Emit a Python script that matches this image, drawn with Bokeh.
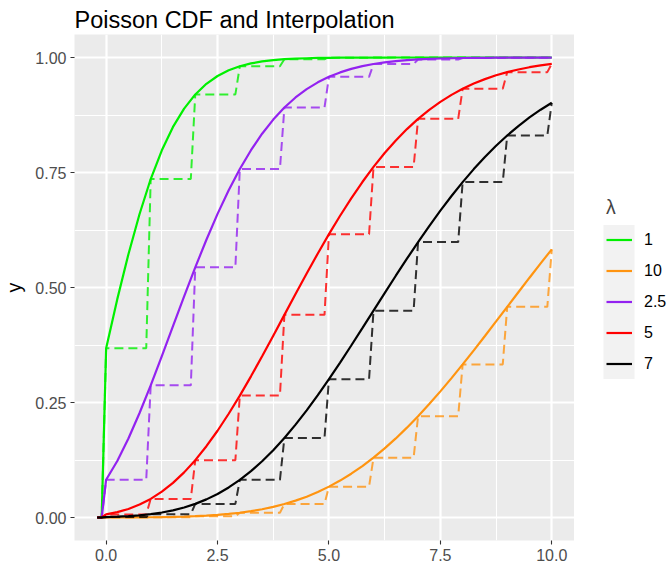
from bokeh.plotting import figure
from bokeh.layouts import row
from bokeh.models import Range1d, FixedTicker, NumeralTickFormatter, Legend, LegendItem
from bokeh.embed import file_html
from bokeh.resources import INLINE

# ---------------- data ----------------
lambdas = ["1", "10", "2.5", "5", "7"]          # legend order
colors = ["#00F000", "#FF9410", "#9322F0", "#FF0000", "#000000"]

step_x = [0, 1, 2, 3, 4, 5, 6, 7, 8, 9, 10]
step_dx = 0.1                                     # grid spacing of the step curve
start_x = [-0.2, -0.1]

cdf_l1 = [0.3679, 0.7358, 0.9197, 0.9810, 0.9963, 0.9994, 0.9999, 1.0, 1.0, 1.0, 1.0]
cdf_l10 = [0.00005, 0.0005, 0.0028, 0.0103, 0.0293, 0.0671, 0.1301, 0.2202, 0.3328, 0.4579, 0.5830]
cdf_l2_5 = [0.0821, 0.2873, 0.5438, 0.7576, 0.8912, 0.9580, 0.9858, 0.9958, 0.9989, 0.9997, 0.9999]
cdf_l5 = [0.0067, 0.0404, 0.1247, 0.2650, 0.4405, 0.6160, 0.7622, 0.8666, 0.9319, 0.9682, 0.9863]
cdf_l7 = [0.0009, 0.0073, 0.0296, 0.0818, 0.1730, 0.3007, 0.4497, 0.5987, 0.7291, 0.8305, 0.9015]

smooth_x = [-0.2, -0.1,
            0, 0.25, 0.5, 0.75, 1, 1.25, 1.5, 1.75, 2, 2.25, 2.5, 2.75, 3, 3.25, 3.5, 3.75,
            4, 4.25, 4.5, 4.75, 5, 5.25, 5.5, 5.75, 6, 6.25, 6.5, 6.75, 7, 7.25, 7.5, 7.75,
            8, 8.25, 8.5, 8.75, 9, 9.25, 9.5, 9.75, 10]
smooth_l1 = [0, 0,
             0.3679, 0.4747, 0.5724, 0.6598, 0.7358, 0.7983, 0.8491, 0.8890, 0.9197, 0.9428,
             0.9598, 0.9723, 0.9810, 0.9872, 0.9914, 0.9944, 0.9963, 0.9976, 0.9984, 0.9990,
             0.9994, 0.9996, 0.9997, 0.9998, 0.9999, 0.9999, 0.99995, 1.0, 1.0, 1.0, 1.0, 1.0,
             1.0, 1.0, 1.0, 1.0, 1.0, 1.0, 1.0, 1.0, 1.0]
smooth_l10 = [0, 0,
              0.00005, 0.0001, 0.0002, 0.0003, 0.0005, 0.0008, 0.0013, 0.0019, 0.0028, 0.0040,
              0.0056, 0.0077, 0.0103, 0.0137, 0.0179, 0.0231, 0.0293, 0.0367, 0.0453, 0.0554,
              0.0671, 0.0803, 0.0952, 0.1118, 0.1301, 0.1502, 0.1719, 0.1953, 0.2202, 0.2466,
              0.2742, 0.3030, 0.3328, 0.3634, 0.3946, 0.4262, 0.4579, 0.4897, 0.5213, 0.5524, 0.5830]
smooth_l2_5 = [0, 0,
               0.0821, 0.1229, 0.1718, 0.2271, 0.2873, 0.3508, 0.4159, 0.4806, 0.5438, 0.6038,
               0.6600, 0.7113, 0.7576, 0.7985, 0.8343, 0.8650, 0.8912, 0.9131, 0.9312, 0.9460,
               0.9580, 0.9676, 0.9752, 0.9812, 0.9858, 0.9894, 0.9921, 0.9942, 0.9958, 0.9970,
               0.9978, 0.9984, 0.9989, 0.9992, 0.9994, 0.9996, 0.9997, 0.9998, 0.9999, 0.9999, 0.9999]
smooth_l5 = [0, 0,
             0.0067, 0.0116, 0.0186, 0.0281, 0.0404, 0.0561, 0.0752, 0.0981, 0.1247, 0.1550,
             0.1886, 0.2255, 0.2650, 0.3069, 0.3505, 0.3952, 0.4405, 0.4857, 0.5304, 0.5740,
             0.6160, 0.6560, 0.6939, 0.7293, 0.7622, 0.7923, 0.8197, 0.8444, 0.8666, 0.8863,
             0.9036, 0.9187, 0.9319, 0.9433, 0.9530, 0.9613, 0.9682, 0.9740, 0.9789, 0.9830, 0.9863]
smooth_l7 = [0, 0,
             0.0009, 0.0017, 0.0029, 0.0047, 0.0073, 0.0109, 0.0156, 0.0218, 0.0296, 0.0394,
             0.0512, 0.0653, 0.0818, 0.1008, 0.1223, 0.1464, 0.1730, 0.2019, 0.2330, 0.2660,
             0.3007, 0.3368, 0.3739, 0.4116, 0.4497, 0.4878, 0.5256, 0.5626, 0.5987, 0.6336,
             0.6671, 0.6990, 0.7291, 0.7574, 0.7837, 0.8081, 0.8305, 0.8510, 0.8697, 0.8865, 0.9015]

x_ticks = [0, 2.5, 5, 7.5, 10]
x_minor = [1.25, 3.75, 6.25, 8.75]
y_ticks = [0, 0.25, 0.5, 0.75, 1.0]
y_minor = [0.125, 0.375, 0.625, 0.875]

cdfs = [cdf_l1, cdf_l10, cdf_l2_5, cdf_l5, cdf_l7]
smooths = [smooth_l1, smooth_l10, smooth_l2_5, smooth_l5, smooth_l7]

FONT = "Liberation Sans"

# ---------------- main plot ----------------
p = figure(width=574, height=571, output_backend="svg", toolbar_location=None,
           x_range=Range1d(-0.71, 10.51), y_range=Range1d(-0.05, 1.05),
           min_border_left=72, min_border_right=0, min_border_top=34, min_border_bottom=31,
           title="Poisson CDF and Interpolation")

p.background_fill_color = "#EBEBEB"
p.border_fill_color = "white"
p.outline_line_color = None

p.title.text_font = FONT
p.title.text_font_size = "23.5px"
p.title.text_font_style = "normal"
p.title.text_color = "black"
p.title.align = "left"
p.title.standoff = 4

p.xaxis.ticker = FixedTicker(ticks=x_ticks, minor_ticks=x_minor)
p.yaxis.ticker = FixedTicker(ticks=y_ticks, minor_ticks=y_minor)
p.xaxis.formatter = NumeralTickFormatter(format="0.0")
p.yaxis.formatter = NumeralTickFormatter(format="0.00")
p.yaxis.axis_label = "y"

for ax in (p.xaxis, p.yaxis):
    ax.axis_line_color = None
    ax.major_tick_line_color = "#333333"
    ax.major_tick_line_width = 1.1
    ax.major_tick_in = 0
    ax.major_tick_out = 4
    ax.minor_tick_line_color = None
    ax.major_label_text_font = FONT
    ax.major_label_text_font_size = "16px"
    ax.major_label_text_color = "#4D4D4D"
    ax.major_label_standoff = 4
    ax.axis_label_text_font = FONT
    ax.axis_label_text_font_size = "19.5px"
    ax.axis_label_text_font_style = "normal"
    ax.axis_label_text_color = "black"
    ax.axis_label_standoff = 7

for g in (p.xgrid, p.ygrid):
    g.grid_line_color = "white"
    g.grid_line_width = 2.2
    g.minor_grid_line_color = "white"
    g.minor_grid_line_width = 1.1

for lam, col, cdf, sm in zip(lambdas, colors, cdfs, smooths):
    # dashed step function through the library's scales
    sx = list(start_x)
    sy = [0.0, 0.0]
    prev = 0.0
    for k, v in zip(step_x, cdf):
        if k > 0:
            sx.append(k - step_dx)
            sy.append(prev)
        sx.append(k)
        sy.append(v)
        prev = v
    p.line(x=smooth_x, y=sm, line_color=col, line_width=2.2)
    p.line(x=sx, y=sy, line_color=col, line_width=2.0, line_dash="9 5", line_alpha=0.8)

# ---------------- legend panel ----------------
# this panel's frame is aligned with the main frame (canvas rows 34..540);
# its ranges are set so one unit is one pixel, y counted from the canvas top.
lf = figure(width=93, height=571, output_backend="svg", toolbar_location=None,
            x_range=Range1d(0, 93), y_range=Range1d(540, 34),
            min_border_left=0, min_border_right=0, min_border_top=34, min_border_bottom=31)
lf.axis.visible = False
lf.grid.visible = False
lf.outline_line_color = None
lf.background_fill_color = "white"
lf.border_fill_color = "white"

# grey background behind the legend keys
lf.quad(left=[29], right=[60], top=[224.5], bottom=[378.5], fill_color="#F2F2F2", line_color=None)

items = []
for lam, col in zip(lambdas, colors):
    r = lf.line(x=[-10, -5], y=[600, 600], line_color=col, line_width=2.2)
    items.append(LegendItem(label=lam, renderers=[r]))

legend = Legend(items=items, location=(32, 161), title="λ",
                title_text_font=FONT, title_text_font_size="19.5px", title_text_font_style="normal",
                title_standoff=5,
                label_text_font=FONT, label_text_font_size="16px", label_text_color="black",
                glyph_width=26, glyph_height=31, label_height=31, spacing=0, padding=0, margin=0,
                label_standoff=12, border_line_color=None, background_fill_alpha=0)
lf.add_layout(legend, "center")

layout = row(p, lf, spacing=0)
open("out.html", "w").write(file_html(layout, INLINE))
